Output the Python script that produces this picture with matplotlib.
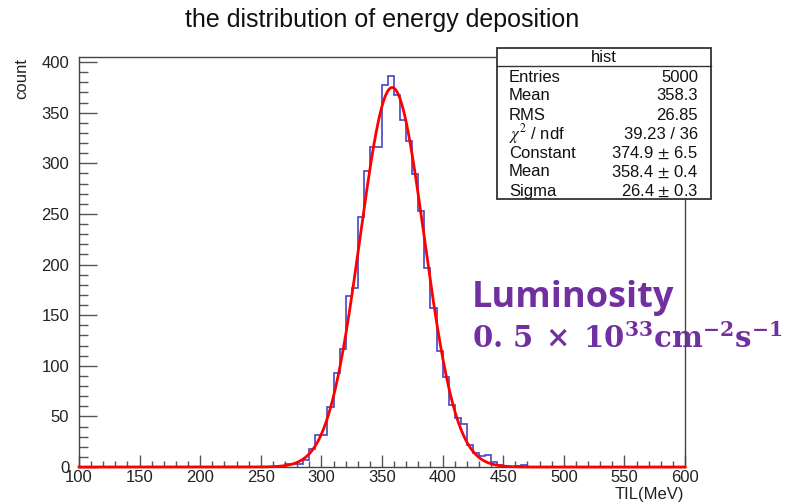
import numpy as np
import matplotlib
matplotlib.use("Agg")
import matplotlib.pyplot as plt
from matplotlib.patches import Rectangle
from matplotlib.lines import Line2D
from matplotlib.ticker import MultipleLocator

plt.rcParams['font.family'] = ['Liberation Sans', 'DejaVu Sans']
plt.rcParams['mathtext.fontset'] = 'stix'

# histogram: 100 bins of width 5 from 100 to 600
x_min, x_max, bin_w = 100, 600, 5
first_bin = 265   # lower edge of first non-empty bin
counts = [1, 3, 3, 3, 7, 18, 32, 32, 59, 93, 117, 169, 177, 247, 292, 316,
          316, 377, 386, 367, 343, 322, 289, 253, 197, 157, 115, 89, 61, 48,
          42, 22, 14, 11, 12, 5, 2, 0, 0, 1, 2]

# gaussian fit parameters from the stats box
fit_const, fit_mean, fit_sigma = 374.9, 358.4, 26.4

stats_names = ["Entries", "Mean", "RMS", r"$\chi^2$ / ndf", "Constant", "Mean", "Sigma"]
stats_values = ["5000", "358.3", "26.85", "39.23 / 36", r"374.9 $\pm$ 6.5",
                r"358.4 $\pm$ 0.4", r"26.4 $\pm$ 0.3"]

W, H = 796, 503
fig = plt.figure(figsize=(W / 100, H / 100), dpi=100)
ax = fig.add_axes([79 / W, 1 - 467 / H, 606 / W, 410 / H])

edges = np.arange(x_min, x_max + bin_w, bin_w)
full = np.zeros(len(edges) - 1)
i0 = (first_bin - x_min) // bin_w
full[i0:i0 + len(counts)] = counts
ax.stairs(full, edges, color='#4646c8', lw=1.2, zorder=3)

xs = np.linspace(x_min, x_max, 1000)
ax.plot(xs, fit_const * np.exp(-0.5 * ((xs - fit_mean) / fit_sigma) ** 2),
        color='#ff0000', lw=2, zorder=4, clip_on=False)

ax.set_xlim(x_min, x_max)
ax.set_ylim(0, 405)
ax.xaxis.set_major_locator(MultipleLocator(50))
ax.xaxis.set_minor_locator(MultipleLocator(10))
ax.yaxis.set_major_locator(MultipleLocator(50))
ax.yaxis.set_minor_locator(MultipleLocator(10))
ax.tick_params(axis='x', which='major', direction='in', length=8.6, width=1,
               color='#555555', labelsize=12, pad=2, labelcolor='#222222')
ax.tick_params(axis='x', which='minor', direction='in', length=4.3, width=1, color='#555555')
ax.tick_params(axis='y', which='major', direction='in', length=13, width=1,
               color='#555555', labelsize=12, pad=7, labelcolor='#222222')
ax.tick_params(axis='y', which='minor', direction='in', length=6.5, width=1, color='#555555')
for s in ax.spines.values():
    s.set_color('#444444')
    s.set_linewidth(1)

fig.text(382 / W, 1 - 20 / H, "the distribution of energy deposition",
         ha='center', va='center', fontsize=18, color='#111111')
fig.text(22 / W, 1 - 58 / H, "count", rotation=90, ha='center', va='top',
         fontsize=12, color='#222222')
fig.text(684 / W, 1 - 494 / H, "TIL(MeV)", ha='right', va='center',
         fontsize=12, color='#222222')

# stats box
bx0, by0, bx1, by1 = 497, 48, 711, 199
fig.patches.append(Rectangle((bx0 / W, 1 - by1 / H), (bx1 - bx0) / W, (by1 - by0) / H,
                             transform=fig.transFigure, facecolor='white',
                             edgecolor='#333333', lw=1.3, zorder=5))
fig.lines.append(Line2D([bx0 / W, bx1 / W], [1 - 66 / H, 1 - 66 / H],
                        transform=fig.transFigure, color='#333333', lw=1, zorder=6))
fig.text(604 / W, 1 - 57 / H, "hist", ha='center', va='center', fontsize=12,
         color='#111111', zorder=7)
for k, (name, val) in enumerate(zip(stats_names, stats_values)):
    y = 1 - (77 + 19 * k) / H
    fig.text(509 / W, y, name, ha='left', va='center', fontsize=12, color='#111111', zorder=7)
    fig.text(698 / W, y, val, ha='right', va='center', fontsize=12, color='#111111', zorder=7)

purple = '#7030a0'
ax.text(472 / W, 1 - 307 / H, "Luminosity", transform=fig.transFigure,
        fontfamily='Open Sans', fontweight='bold', fontsize=26, color=purple,
        ha='left', va='baseline', clip_on=False, zorder=2)
ax.text(472 / W, 1 - 348 / H, r"$\mathbf{0.\,5\;\times\;10^{33}cm^{-2}s^{-1}}$",
        transform=fig.transFigure, fontsize=21, color=purple, math_fontfamily='dejavuserif',
        ha='left', va='baseline', clip_on=False, zorder=2)

fig.savefig("out.png", dpi=100)
